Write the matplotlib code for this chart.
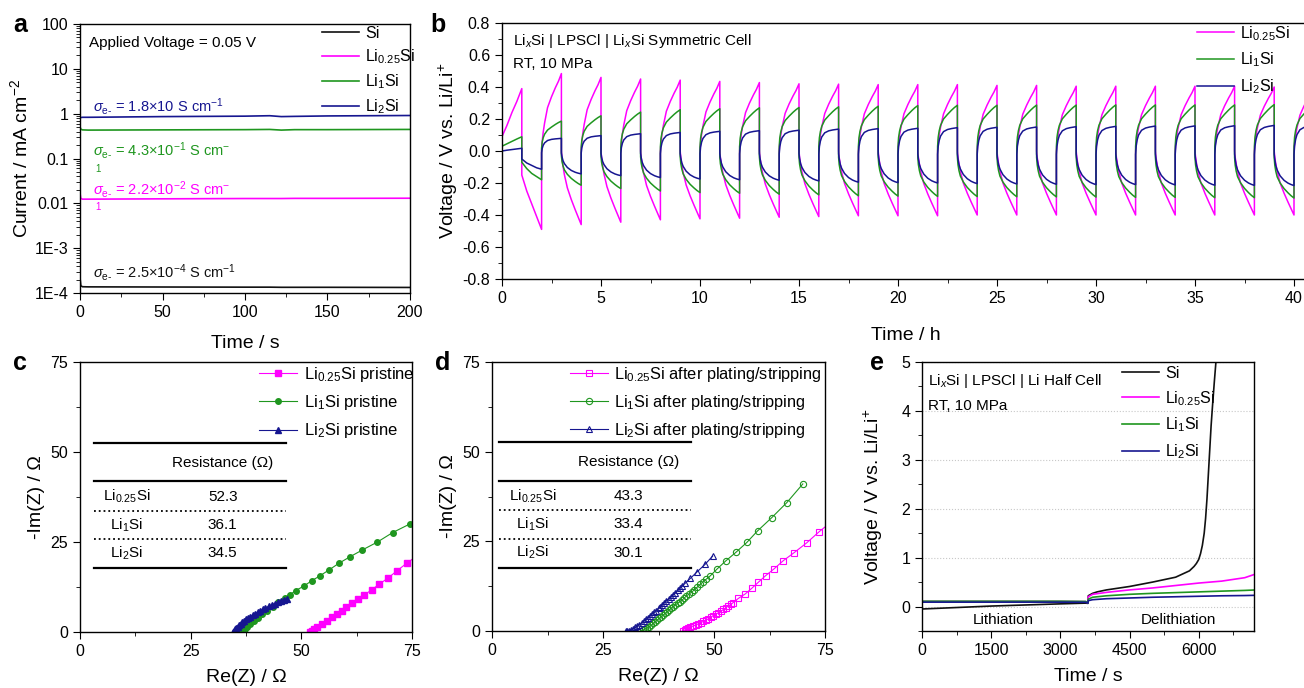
import numpy as np
import matplotlib
matplotlib.use('Agg')
import matplotlib.pyplot as plt
from matplotlib.ticker import MultipleLocator, LogLocator, NullFormatter

plt.rcParams['font.family'] = ['Liberation Sans', 'DejaVu Sans']
plt.rcParams['mathtext.fontset'] = 'custom'
plt.rcParams['mathtext.rm'] = 'Liberation Sans'
plt.rcParams['mathtext.it'] = 'Liberation Sans:italic'
plt.rcParams['mathtext.bf'] = 'Liberation Sans:bold'
plt.rcParams['axes.linewidth'] = 1.0
plt.rcParams['xtick.major.size'] = 5
plt.rcParams['ytick.major.size'] = 5
plt.rcParams['xtick.minor.size'] = 3
plt.rcParams['ytick.minor.size'] = 3
plt.rcParams['xtick.labelsize'] = 11.5
plt.rcParams['ytick.labelsize'] = 11.5
plt.rcParams['axes.labelsize'] = 14

MAG = '#ff00ff'
GRN = '#1f961f'
NAV = '#161690'
BLK = '#111111'

# ---------- a: current under 0.05 V ----------
t_a = [0, 0.5, 1.5, 5, 50, 100, 115, 122, 130, 150, 200]
cur_si = [2.2e-4, 1.45e-4, 1.38e-4, 1.37e-4, 1.36e-4, 1.35e-4, 1.35e-4, 1.34e-4, 1.34e-4, 1.34e-4, 1.33e-4]
cur_l025 = [0.0168, 0.0128, 0.0124, 0.0124, 0.0126, 0.0128, 0.0128, 0.0128, 0.0129, 0.0129, 0.013]
cur_l1 = [0.51, 0.45, 0.435, 0.43, 0.435, 0.44, 0.445, 0.43, 0.44, 0.44, 0.445]
cur_l2 = [0.82, 0.82, 0.83, 0.83, 0.86, 0.88, 0.90, 0.86, 0.87, 0.89, 0.91]

# ---------- b: symmetric cell cycling ----------
# first two hours, read point by point
t_b0 = [0, 0.25, 0.5, 0.75, 1.0, 1.0, 1.25, 1.5, 1.75, 2.0]
mag_b0 = [0.09, 0.16, 0.24, 0.31, 0.39, -0.15, -0.25, -0.33, -0.41, -0.49]
grn_b0 = [0.03, 0.045, 0.06, 0.075, 0.089, -0.07, -0.11, -0.14, -0.16, -0.18]
nav_b0 = [0.0, 0.005, 0.009, 0.013, 0.017, -0.05, -0.075, -0.09, -0.105, -0.114]
# end-of-step voltages for steps ending at 3, 4, ..., 41 h
mag_ext = [0.484, -0.46, 0.46, -0.445, 0.45, -0.43, 0.443, -0.424, 0.435, -0.42,
           0.428, -0.414, 0.42, -0.41, 0.418, -0.405, 0.415, -0.405, 0.415, -0.405,
           0.415, -0.40, 0.41, -0.40, 0.41, -0.40, 0.405, -0.40, 0.405, -0.40,
           0.405, -0.40, 0.405, -0.40, 0.405, -0.40, 0.40, -0.40, 0.40]
grn_ext = [0.187, -0.214, 0.22, -0.235, 0.243, -0.25, 0.258, -0.26, 0.264, -0.264,
           0.27, -0.27, 0.272, -0.274, 0.276, -0.28, 0.28, -0.282, 0.284, -0.284,
           0.286, -0.285, 0.286, -0.286, 0.287, -0.287, 0.287, -0.288, 0.288, -0.29,
           0.288, -0.29, 0.288, -0.292, 0.288, -0.292, 0.29, -0.294, 0.29]
nav_ext = [0.079, -0.143, 0.096, -0.154, 0.108, -0.166, 0.116, -0.175, 0.123, -0.18,
           0.127, -0.183, 0.13, -0.187, 0.137, -0.195, 0.14, -0.198, 0.142, -0.2,
           0.146, -0.204, 0.148, -0.206, 0.15, -0.208, 0.152, -0.21, 0.154, -0.21,
           0.156, -0.212, 0.157, -0.214, 0.158, -0.215, 0.16, -0.216, 0.16]
# shape of one 1 h step (fraction of the step, fraction of the end voltage)
step_t = [0, 0.03, 0.08, 0.15, 0.3, 0.5, 0.7, 0.85, 1.0]
mag_up = [0.0, 0.12, 0.24, 0.36, 0.56, 0.70, 0.82, 0.90, 1.0]
mag_dn = [0.0, 0.10, 0.20, 0.32, 0.50, 0.66, 0.80, 0.90, 1.0]
grn_up = [0.10, 0.30, 0.44, 0.56, 0.70, 0.80, 0.89, 0.95, 1.0]
grn_dn = [0.14, 0.30, 0.43, 0.55, 0.68, 0.80, 0.89, 0.95, 1.0]
nav_up = [-0.14, 0.20, 0.45, 0.64, 0.83, 0.92, 0.96, 0.98, 1.0]
nav_dn = [0.09, 0.25, 0.42, 0.55, 0.72, 0.85, 0.93, 0.97, 1.0]

# ---------- c / d: impedance ----------
c_l025_re = [52.0, 52.3, 52.8, 53.5, 54.6, 55.7, 56.9, 58.0, 59.1, 60.2, 61.4, 62.9, 64.2, 65.9, 67.6, 69.5, 71.5, 73.8, 76.2]
c_l025_im = [0.0, 0.3, 0.7, 1.5, 2.2, 3.1, 4.1, 5.0, 5.9, 6.9, 8.0, 9.1, 10.3, 11.7, 13.3, 14.9, 16.9, 19.1, 21.2]
c_l1_re = [36.1, 36.6, 37.2, 37.8, 38.5, 39.3, 40.2, 41.2, 42.3, 43.5, 44.8, 46.2, 47.4, 48.7, 50.5, 52.3, 54.2, 56.2, 58.5, 61.0, 63.8, 67.2, 70.6, 74.5]
c_l1_im = [0.0, 0.4, 0.9, 1.5, 2.2, 3.0, 3.9, 4.9, 5.9, 7.0, 8.2, 9.4, 10.3, 11.5, 12.7, 14.2, 15.6, 17.2, 19.1, 20.9, 22.8, 25.0, 27.6, 30.0]
c_l2_re = [34.5, 34.8, 35.0, 35.3, 35.6, 35.9, 36.3, 36.7, 37.1, 37.5, 38.0, 38.5, 39.0, 39.5, 40.1, 40.7, 41.3, 41.9, 42.6, 43.3, 44.0, 44.7, 45.4, 46.0, 46.7]
c_l2_im = [0.0, 0.35, 0.7, 1.1, 1.5, 1.9, 2.3, 2.7, 3.1, 3.5, 3.9, 4.3, 4.7, 5.1, 5.5, 5.9, 6.3, 6.7, 7.1, 7.5, 7.9, 8.2, 8.5, 8.8, 9.1]
d_l025_re = [43.1, 43.4, 43.8, 44.2, 44.7, 45.3, 45.9, 46.5, 47.0, 47.6, 48.2, 48.7, 49.3, 49.8, 50.4, 51.0, 51.6, 52.1, 52.7, 53.2, 53.8, 54.3, 55.5, 57.0, 58.5, 60.0, 61.6, 63.5, 65.6, 68.0, 70.9, 73.7, 76.3]
d_l025_im = [0.0, 0.3, 0.6, 0.8, 1.1, 1.4, 1.7, 2.0, 2.3, 2.7, 3.0, 3.4, 3.8, 4.3, 4.7, 5.1, 5.5, 6.0, 6.5, 7.0, 7.4, 7.9, 9.1, 10.3, 11.9, 13.6, 15.4, 17.3, 19.6, 21.8, 24.6, 27.7, 30.3]
d_l1_re = [33.4, 33.9, 34.5, 35.0, 35.4, 35.9, 36.3, 36.8, 37.2, 37.7, 38.1, 38.6, 39.0, 39.5, 39.9, 40.4, 40.8, 41.3, 41.8, 42.3, 42.8, 43.3, 43.8, 44.4, 45.0, 45.6, 46.2, 46.9, 47.6, 48.3, 49.1, 50.7, 52.7, 54.9, 57.4, 59.8, 63.0, 66.4, 70.0]
d_l1_im = [0.0, 0.2, 0.5, 0.8, 1.2, 1.6, 2.1, 2.6, 3.1, 3.5, 4.0, 4.5, 4.9, 5.4, 5.9, 6.4, 6.8, 7.3, 7.7, 8.2, 8.6, 9.2, 9.8, 10.3, 10.9, 11.5, 12.2, 13.0, 13.8, 14.5, 15.3, 17.3, 19.6, 21.9, 24.7, 27.9, 31.6, 35.8, 41.0]
d_l2_re = [30.1, 30.4, 30.9, 31.3, 31.8, 32.2, 32.7, 33.2, 33.7, 34.2, 34.7, 35.1, 35.6, 36.0, 36.5, 37.0, 37.5, 37.9, 38.4, 38.8, 39.3, 39.8, 40.3, 40.8, 41.3, 41.8, 42.3, 42.9, 43.5, 44.7, 46.2, 48.0, 49.7]
d_l2_im = [0.0, 0.05, 0.1, 0.3, 0.6, 1.0, 1.4, 1.8, 2.3, 2.8, 3.3, 3.7, 4.2, 4.7, 5.2, 5.7, 6.3, 6.8, 7.3, 7.9, 8.5, 9.0, 9.6, 10.1, 10.7, 11.3, 11.9, 12.6, 13.3, 14.7, 16.5, 18.6, 20.9]
tab_names = ['Li$_{0.25}$Si', 'Li$_1$Si', 'Li$_2$Si']
c_res = ['52.3', '36.1', '34.5']
d_res = ['43.3', '33.4', '30.1']

# ---------- e: half cell ----------
t_e_si = [0, 500, 1000, 1500, 2000, 2500, 3000, 3550, 3600, 3605, 3700, 3800, 4000, 4500, 5000, 5500,
          5800, 5900, 5950, 6000, 6040, 6080, 6120, 6150, 6180, 6210, 6240, 6270, 6300, 6340, 6400]
v_e_si = [-0.05, -0.03, -0.01, 0.01, 0.025, 0.04, 0.055, 0.07, 0.065, 0.22, 0.27, 0.3, 0.34, 0.41, 0.5, 0.6,
          0.73, 0.82, 0.88, 0.96, 1.08, 1.25, 1.5, 1.8, 2.2, 2.7, 3.2, 3.7, 4.1, 4.6, 5.3]
t_e = [0, 1000, 2000, 3000, 3550, 3600, 3605, 3700, 4000, 4500, 5000, 5500, 6000, 6500, 7000, 7250]
v_e_l025 = [0.105, 0.105, 0.105, 0.105, 0.1, 0.07, 0.2, 0.25, 0.29, 0.34, 0.38, 0.43, 0.48, 0.52, 0.59, 0.67]
v_e_l1 = [0.11, 0.11, 0.11, 0.11, 0.105, 0.07, 0.15, 0.19, 0.22, 0.25, 0.27, 0.285, 0.3, 0.315, 0.33, 0.34]
v_e_l2 = [0.09, 0.09, 0.09, 0.09, 0.088, 0.07, 0.12, 0.14, 0.16, 0.175, 0.19, 0.2, 0.21, 0.22, 0.225, 0.23]

W, H = 1304, 688
fig = plt.figure(figsize=(W / 100, H / 100), dpi=100)


def add_ax(l, t, r, b):
    return fig.add_axes([l / W, 1 - b / H, (r - l) / W, (b - t) / H])


def add_legend(ax, x, y, fs=11.5, **kw):
    return ax.legend(loc='upper left', bbox_to_anchor=(x / W, 1 - y / H),
                     bbox_transform=fig.transFigure, frameon=False, fontsize=fs,
                     borderpad=0, handletextpad=0.4, borderaxespad=0, **kw)


def panel_letter(x, y, s):
    fig.text(x / W, 1 - y / H, s, fontsize=18, fontweight='bold', ha='center', va='center')


# ---------- a ----------
ax = add_ax(80, 24, 410, 293)
ax.plot(t_a, cur_si, color=BLK, lw=1.2, label='Si')
ax.plot(t_a, cur_l025, color=MAG, lw=1.2, label='Li$_{0.25}$Si')
ax.plot(t_a, cur_l1, color=GRN, lw=1.2, label='Li$_1$Si')
ax.plot(t_a, cur_l2, color=NAV, lw=1.2, label='Li$_2$Si')
ax.set_yscale('log')
ax.set_ylim(1e-4, 100)
ax.set_xlim(0, 200)
ax.set_yticks([1e-4, 1e-3, 1e-2, 1e-1, 1, 10, 100])
ax.set_yticklabels(['1E-4', '1E-3', '0.01', '0.1', '1', '10', '100'])
ax.yaxis.set_minor_locator(LogLocator(base=10, subs=np.arange(2, 10)))
ax.yaxis.set_minor_formatter(NullFormatter())
ax.xaxis.set_major_locator(MultipleLocator(50))
ax.xaxis.set_minor_locator(MultipleLocator(25))
ax.set_xlabel('Time / s', labelpad=11)
ax.set_ylabel('Current / mA cm$^{-2}$', labelpad=2)
ax.text(0.027, 0.93, 'Applied Voltage = 0.05 V', transform=ax.transAxes, fontsize=11, va='center')
sig = r'$\sigma_{\mathrm{e}\text{-}}$'
ax.text(0.04, 0.695, sig + ' = 1.8×10 S cm$^{-1}$', transform=ax.transAxes, fontsize=10.5, color=NAV, va='center')
ax.text(0.04, 0.53, sig + ' = 4.3×10$^{-1}$ S cm$^{-}$', transform=ax.transAxes, fontsize=10.5, color=GRN, va='center')
ax.text(0.045, 0.462, '1', transform=ax.transAxes, fontsize=7, color=GRN, va='center')
ax.text(0.04, 0.385, sig + ' = 2.2×10$^{-2}$ S cm$^{-}$', transform=ax.transAxes, fontsize=10.5, color=MAG, va='center')
ax.text(0.045, 0.318, '1', transform=ax.transAxes, fontsize=7, color=MAG, va='center')
ax.text(0.04, 0.075, sig + ' = 2.5×10$^{-4}$ S cm$^{-1}$', transform=ax.transAxes, fontsize=10.5, color=BLK, va='center')
add_legend(ax, 322, 26, handlelength=2.3, labelspacing=0.4)
panel_letter(20, 25, 'a')

# ---------- b ----------
ax = add_ax(502, 23, 1310, 279)
tb = list(t_b0)
series_b = {'mag': list(mag_b0), 'grn': list(grn_b0), 'nav': list(nav_b0)}
shapes = {'mag': (mag_ext, mag_up, mag_dn), 'grn': (grn_ext, grn_up, grn_dn), 'nav': (nav_ext, nav_up, nav_dn)}
for k in range(len(mag_ext)):
    t0 = 2 + k
    tb.extend([t0 + f for f in step_t])
    for key, (ext, up, dn) in shapes.items():
        prof = up if ext[k] > 0 else dn
        series_b[key].extend([ext[k] * f for f in prof])
ax.plot(tb, series_b['mag'], color=MAG, lw=1.1, label='Li$_{0.25}$Si')
ax.plot(tb, series_b['grn'], color=GRN, lw=1.1, label='Li$_1$Si')
ax.plot(tb, series_b['nav'], color=NAV, lw=1.1, label='Li$_2$Si')
ax.set_xlim(0, 808 / 19.8)
ax.set_ylim(-0.8, 0.8)
ax.xaxis.set_major_locator(MultipleLocator(5))
ax.xaxis.set_minor_locator(MultipleLocator(2.5))
ax.yaxis.set_major_locator(MultipleLocator(0.2))
ax.yaxis.set_minor_locator(MultipleLocator(0.1))
ax.yaxis.set_major_formatter(plt.FuncFormatter(lambda v, p: f'{v:.1f}' if abs(v) > 1e-9 else '0.0'))
ax.set_xlabel('Time / h', labelpad=15)
ax.set_ylabel('Voltage / V vs. Li/Li$^{+}$', labelpad=2)
ax.text(0.014, 0.93, 'Li$_x$Si | LPSCl | Li$_x$Si Symmetric Cell', transform=ax.transAxes, fontsize=11, va='center')
ax.text(0.014, 0.84, 'RT, 10 MPa', transform=ax.transAxes, fontsize=11, va='center')
add_legend(ax, 1197, 24, handlelength=2.3, labelspacing=0.5)
panel_letter(438, 25, 'b')


# ---------- c / d ----------
def eis_panel(ax, data, filled, res, tx0, tx1, hx, nx):
    for (re, im, c, m, lab) in data:
        if filled:
            ax.plot(re, im, color=c, lw=0.8, marker=m, ms=4, mfc=c, mec=c, label=lab)
        else:
            ax.plot(re, im, color=c, lw=0.8, marker=m, ms=4.5, mfc='none', mec=c, mew=0.8, label=lab)
    ax.set_xlim(0, 75)
    ax.set_ylim(0, 75)
    ax.xaxis.set_major_locator(MultipleLocator(25))
    ax.xaxis.set_minor_locator(MultipleLocator(12.5))
    ax.yaxis.set_major_locator(MultipleLocator(25))
    ax.yaxis.set_minor_locator(MultipleLocator(12.5))
    ax.set_xlabel('Re(Z) / Ω', labelpad=7)
    ax.set_ylabel('-Im(Z) / Ω', labelpad=4)
    for y, ls, lw in [(0.701, '-', 1.6), (0.559, '-', 1.6), (0.449, ':', 1.3), (0.343, ':', 1.3), (0.236, '-', 1.6)]:
        ax.plot([tx0, tx1], [y, y], transform=ax.transAxes, color='black', lw=lw, ls=ls)
    ax.text(hx, 0.627, 'Resistance (Ω)', transform=ax.transAxes, fontsize=11, ha='center', va='center')
    for y, nm, r in zip([0.501, 0.396, 0.291], tab_names, res):
        ax.text(nx, y, nm, transform=ax.transAxes, fontsize=11, ha='center', va='center')
        ax.text(hx, y, r, transform=ax.transAxes, fontsize=11, ha='center', va='center')


ax = add_ax(80, 362, 412, 632)
eis_panel(ax, [(c_l025_re, c_l025_im, MAG, 's', 'Li$_{0.25}$Si pristine'),
               (c_l1_re, c_l1_im, GRN, 'o', 'Li$_1$Si pristine'),
               (c_l2_re, c_l2_im, NAV, '^', 'Li$_2$Si pristine')],
          True, c_res, 0.042, 0.62, 0.43, 0.14)
add_legend(ax, 259, 365, fs=12, handlelength=2.3, labelspacing=0.55)
panel_letter(20, 363, 'c')

ax = add_ax(492, 362, 825, 631)
eis_panel(ax, [(d_l025_re, d_l025_im, MAG, 's', 'Li$_{0.25}$Si after plating/stripping'),
               (d_l1_re, d_l1_im, GRN, 'o', 'Li$_1$Si after plating/stripping'),
               (d_l2_re, d_l2_im, NAV, '^', 'Li$_2$Si after plating/stripping')],
          False, d_res, 0.021, 0.598, 0.41, 0.123)
add_legend(ax, 570, 365, fs=11.8, handlelength=2.3, labelspacing=0.55)
panel_letter(443, 363, 'd')

# ---------- e ----------
ax = add_ax(922, 362, 1254, 631)
ax.plot(t_e_si, v_e_si, color=BLK, lw=1.2, label='Si')
ax.plot(t_e, v_e_l025, color=MAG, lw=1.2, label='Li$_{0.25}$Si')
ax.plot(t_e, v_e_l1, color=GRN, lw=1.2, label='Li$_1$Si')
ax.plot(t_e, v_e_l2, color=NAV, lw=1.2, label='Li$_2$Si')
ax.set_xlim(0, 7200)
ax.set_ylim(-0.5, 5)
ax.xaxis.set_major_locator(MultipleLocator(1500))
ax.xaxis.set_minor_locator(MultipleLocator(750))
ax.yaxis.set_major_locator(MultipleLocator(1))
ax.yaxis.set_minor_locator(MultipleLocator(0.5))
ax.grid(axis='y', which='major', color='#c8c8c8', ls=':', lw=0.8)
ax.set_axisbelow(True)
ax.set_xlabel('Time / s', labelpad=7)
ax.set_ylabel('Voltage / V vs. Li/Li$^{+}$', labelpad=12)
ax.text(0.018, 0.93, 'Li$_x$Si | LPSCl | Li Half Cell', transform=ax.transAxes, fontsize=11, va='center')
ax.text(0.018, 0.835, 'RT, 10 MPa', transform=ax.transAxes, fontsize=11, va='center')
ax.text(1760, -0.27, 'Lithiation', fontsize=11, ha='center', va='center')
ax.text(5565, -0.27, 'Delithiation', fontsize=11, ha='center', va='center')
add_legend(ax, 1122, 366, handlelength=2.3, labelspacing=0.5)
panel_letter(877, 363, 'e')

fig.savefig('out.png', dpi=100)
